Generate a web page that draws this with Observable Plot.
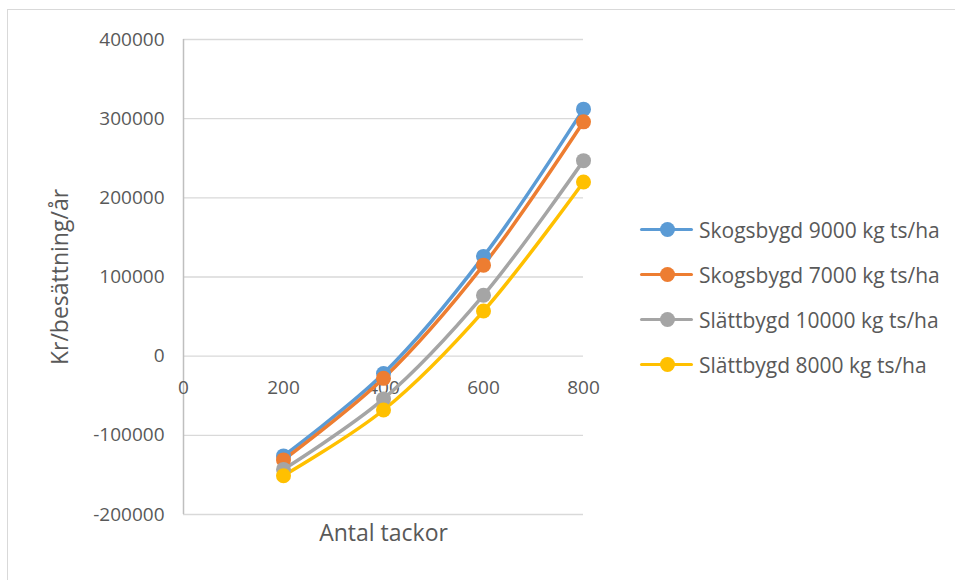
<!DOCTYPE html>
<html>
<head>
<meta charset="utf-8">
<script src="https://cdn.jsdelivr.net/npm/d3@7"></script>
<script src="https://cdn.jsdelivr.net/npm/@observablehq/plot@0.6"></script>
<style>
  html, body { margin: 0; padding: 0; background: #fff; }
  #wrap { position: relative; width: 955px; height: 580px; overflow: hidden; font-family: "Open Sans", sans-serif; }
  #frame { position: absolute; left: 7px; top: 9px; width: 960px; height: 600px; border: 1px solid #d9d9d9; box-sizing: border-box; }
  #chart { position: absolute; left: 0; top: 0; }
  #legend { position: absolute; left: 640px; top: 207px; }
  .row { display: flex; align-items: center; height: 45px; font-size: 21px; color: #595959; white-space: nowrap; }
  .sw { position: relative; width: 53px; height: 20px; margin-right: 6px; flex: none; }
  .sw .ln { position: absolute; left: 0; right: 0; top: 8.5px; height: 3px; border-radius: 2px; }
  .sw .dt { position: absolute; left: 19.5px; top: 2.5px; width: 15px; height: 15px; border-radius: 50%; }
</style>
</head>
<body>
<div id="wrap">
  <div id="frame"></div>
  <div id="chart"></div>
  <div id="legend"></div>
</div>
<script>
const antal = [200, 400, 600, 800];
const seriesNames = [
  "Skogsbygd 9000 kg ts/ha",
  "Skogsbygd 7000 kg ts/ha",
  "Slättbygd 10000 kg ts/ha",
  "Slättbygd 8000 kg ts/ha"
];
const skogs9000 = [-126000, -22000, 126000, 312000];
const skogs7000 = [-131000, -28000, 115000, 296000];
const slatt10000 = [-143000, -54000, 77000, 247000];
const slatt8000 = [-151000, -68000, 57000, 220000];
const colors = ["#5b9bd5", "#ed7d31", "#a5a5a5", "#ffc000"];
const yTicks = [-200000, -100000, 0, 100000, 200000, 300000, 400000];
const xTicks = [0, 200, 400, 600, 800];

const allSeries = [skogs9000, skogs7000, slatt10000, slatt8000];
const data = [];
allSeries.forEach((vals, i) => {
  vals.forEach((v, j) => data.push({ serie: seriesNames[i], x: antal[j], y: v }));
});

const chart = Plot.plot({
  width: 955,
  height: 580,
  marginLeft: 183,
  marginRight: 372,
  marginTop: 39,
  marginBottom: 66,
  style: { background: "transparent", fontFamily: "Open Sans, sans-serif" },
  x: { domain: [0, 800], axis: null },
  y: { domain: [-200000, 400000], axis: null },
  color: { domain: seriesNames, range: colors },
  marks: [
    Plot.ruleY(yTicks, { stroke: "#d9d9d9", strokeWidth: 1.3 }),
    Plot.ruleX([0], { stroke: "#bfbfbf", strokeWidth: 1.5 }),
    Plot.text(yTicks, { x: 0, y: d => d, text: d => String(d), textAnchor: "end", dx: -19, fontSize: 19, fill: "#595959" }),
    Plot.text(xTicks, { x: d => d, y: 0, text: d => String(d), dy: 32, fontSize: 19, fill: "#595959" }),
    Plot.line(data, { x: "x", y: "y", z: "serie", stroke: "serie", strokeWidth: 3.5, curve: "catmull-rom" }),
    Plot.dot(data, { x: "x", y: "y", fill: "serie", r: 7.5 }),
    Plot.text(["Antal tackor"], { frameAnchor: "bottom", dy: 26, fontSize: 23, fill: "#595959" }),
    Plot.text(["Kr/besättning/år"], { frameAnchor: "left", textAnchor: "middle", dx: -123, rotate: -90, fontSize: 23, fill: "#595959" })
  ]
});
document.getElementById("chart").appendChild(chart);

const legend = document.getElementById("legend");
seriesNames.forEach((name, i) => {
  const row = document.createElement("div");
  row.className = "row";
  row.innerHTML = `<div class="sw"><div class="ln" style="background:${colors[i]}"></div><div class="dt" style="background:${colors[i]}"></div></div><span>${name}</span>`;
  legend.appendChild(row);
});
</script>
</body>
</html>
